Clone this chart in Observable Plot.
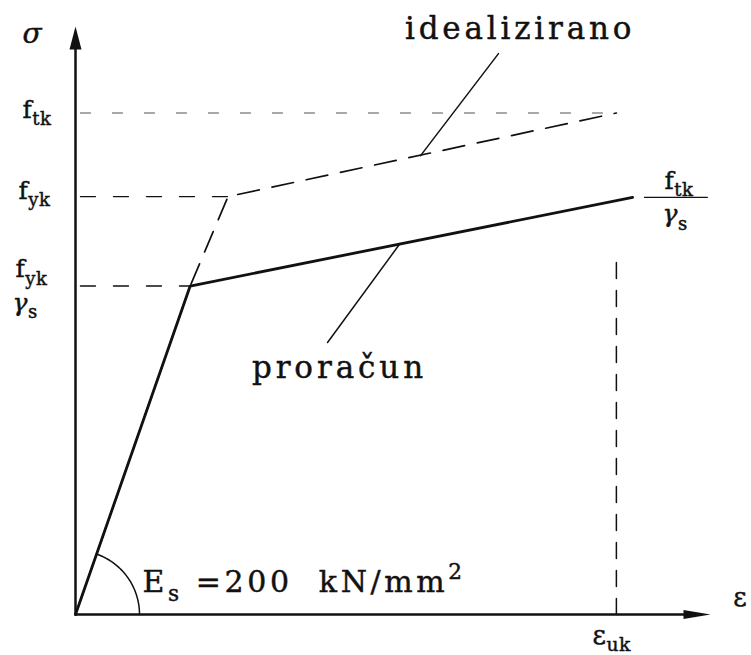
<!DOCTYPE html>
<html>
<head>
<meta charset="utf-8">
<script src="https://cdn.jsdelivr.net/npm/d3@7"></script>
<script src="https://cdn.jsdelivr.net/npm/@observablehq/plot@0.6"></script>
<style>
  html, body { margin: 0; padding: 0; background: white; }
</style>
</head>
<body>
<script>
// ---- values (schematic units: ε in ‰, σ in N/mm²) ----
const eps_uk = 50;
const f_tk = 600;
const f_yk = 500;
const f_yd = 393;      // f_yk / γs
const f_td = 499;      // f_tk / γs
const eps_yk = 14.1;   // idealised yield strain
const eps_yd = 10.6;   // design yield strain
const eps_td_end = 51.5;
const eps_max = 58.7;  // arrow tip of ε axis
const sig_max = 703.5; // arrow tip of σ axis

const idealEps = [0, eps_yd, eps_yk, eps_uk];
const idealSig = [0, f_yd, f_yk, f_tk];
const designEps = [0, eps_yd, eps_td_end];
const designSig = [0, f_yd, f_td];

const refStart = 0.46;
const leaderIdealEps = [39.1, 31.9];
const leaderIdealSig = [671, 549];
const leaderDesignEps = [30.0, 23.3];
const leaderDesignSig = [443.8, 325.4];
const vertSig = [421, -9.6];
const fracBarEps = [52.6, 58.4];

// ---- scales ----
const xDomain = [0, eps_max], xRange = [75, 710];
const yDomain = [0, sig_max], yRange = [614, 26];
const kx = (xRange[1] - xRange[0]) / (xDomain[1] - xDomain[0]);
const ky = (yRange[0] - yRange[1]) / (yDomain[1] - yDomain[0]);

const toPts = (xs, ys) => xs.map((x, i) => ({x, y: ys[i]}));
const ink = "#111";

// angle arc (radius in px) between ε axis and first design segment
const theta = Math.atan2(designSig[1] * ky, designEps[1] * kx);
const arcR = 64;
const arc = d3.range(0, 41).map(i => {
  const t = theta * i / 40;
  return {x: arcR * Math.cos(t) / kx, y: arcR * Math.sin(t) / ky};
});

// custom arrowhead symbols (tip at the point)
const upHead = {draw(ctx) { ctx.moveTo(0, 0); ctx.lineTo(-6, 23); ctx.lineTo(6, 23); ctx.closePath(); }};
const rightHead = {draw(ctx) { ctx.moveTo(0, 0); ctx.lineTo(-27, -4.5); ctx.lineTo(-27, 4.5); ctx.closePath(); }};

// text labels (rich: _{sub}, ^{sup})
const labels = [
  {x: -4.9, y: 694, t: "σ", size: 28, style: "italic", anchor: "start", ls: 0},
  {x: -4.9, y: 604, t: "f_{tk}", size: 25, anchor: "start", ls: 0.5},
  {x: -5.27, y: 507, t: "f_{yk}", size: 25, anchor: "start", ls: 0.5},
  {x: -5.55, y: 413, t: "f_{yk}", size: 25, anchor: "start", ls: 0.5},
  {x: -5.82, y: 373, t: "γ_{s}", size: 25, style: "italic", anchor: "start", ls: 0.5},
  {x: 54.45, y: 519, t: "f_{tk}", size: 25, anchor: "start", ls: 0.5},
  {x: 54.26, y: 478.6, t: "γ_{s}", size: 25, style: "italic", anchor: "start", ls: 0.5},
  {x: 41.1, y: 701, t: "idealizirano", size: 31, anchor: "middle", ls: 3.8},
  {x: 24.4, y: 294.3, t: "proračun", size: 31, anchor: "middle", ls: 3.9},
  {x: 6.19, y: 38.3, t: "E_{s} =200  kN/mm^{2}", size: 30, anchor: "start", ls: 3.6},
  {x: 60.8, y: 20.3, t: "ε", size: 26, anchor: "start", ls: 0},
  {x: 47.8, y: -24.8, t: "ε_{uk}", size: 26, anchor: "start", ls: 0.5}
];

const textMarks = labels.map(l => Plot.text([l], {
  x: "x", y: "y", text: "t", fontSize: l.size, fontStyle: l.style || "normal",
  textAnchor: l.anchor, fill: ink, stroke: ink, strokeWidth: 0.45
}));

const svg = Plot.plot({
  width: 751,
  height: 655,
  margin: 0,
  x: {domain: xDomain, range: xRange, axis: null},
  y: {domain: yDomain, range: yRange, axis: null},
  style: {fontFamily: "'DejaVu Serif', serif", background: "white", color: ink},
  marks: [
    // reference lines
    Plot.line(toPts([refStart, eps_uk], [f_tk, f_tk]), {x: "x", y: "y", stroke: "#8a8a8a", strokeWidth: 1.3, strokeDasharray: "10,22"}),
    Plot.line(toPts([refStart, eps_yk], [f_yk, f_yk]), {x: "x", y: "y", stroke: ink, strokeWidth: 1.4, strokeDasharray: "15,18"}),
    Plot.line(toPts([refStart, eps_yd], [f_yd, f_yd]), {x: "x", y: "y", stroke: ink, strokeWidth: 1.4, strokeDasharray: "15,18"}),
    Plot.line(toPts([eps_uk, eps_uk], vertSig), {x: "x", y: "y", stroke: ink, strokeWidth: 1.5, strokeDasharray: "16,12"}),
    // idealised diagram (dashed)
    Plot.line(toPts(idealEps, idealSig), {x: "x", y: "y", stroke: ink, strokeWidth: 1.7, strokeDasharray: "22,13"}),
    // design diagram (solid)
    Plot.line(toPts(designEps, designSig), {x: "x", y: "y", stroke: ink, strokeWidth: 2.8}),
    // leaders
    Plot.line(toPts(leaderIdealEps, leaderIdealSig), {x: "x", y: "y", stroke: ink, strokeWidth: 1.5}),
    Plot.line(toPts(leaderDesignEps, leaderDesignSig), {x: "x", y: "y", stroke: ink, strokeWidth: 1.5}),
    // angle arc
    Plot.line(arc, {x: "x", y: "y", stroke: ink, strokeWidth: 1.5}),
    // fraction bar
    Plot.line(toPts(fracBarEps, [f_td, f_td]), {x: "x", y: "y", stroke: ink, strokeWidth: 1.3}),
    // axes
    Plot.line(toPts([0, eps_max - 1.5], [0, 0]), {x: "x", y: "y", stroke: ink, strokeWidth: 2.5}),
    Plot.line(toPts([0, 0], [0, sig_max - 15]), {x: "x", y: "y", stroke: ink, strokeWidth: 2.5}),
    Plot.dot([{x: 0, y: sig_max}], {x: "x", y: "y", symbol: upHead, fill: ink, stroke: "none", r: 5}),
    Plot.dot([{x: eps_max, y: 0}], {x: "x", y: "y", symbol: rightHead, fill: ink, stroke: "none", r: 5}),
    ...textMarks
  ]
});

document.body.appendChild(svg);

// letter spacing per label, then rich text (subscripts / superscripts)
const spacing = new Map(labels.map(l => [l.t, l.ls]));
const NS = "http://www.w3.org/2000/svg";
d3.select(svg).selectAll("text").each(function() {
  const el = this;
  const s = el.textContent;
  if (spacing.has(s)) el.setAttribute("letter-spacing", spacing.get(s));
  if (!/[_^]\{/.test(s)) return;
  const fs = parseFloat(getComputedStyle(el).fontSize) || 24;
  el.textContent = "";
  const re = /([_^])\{([^}]*)\}|([^_^]+)/g;
  let m, shift = 0;
  while ((m = re.exec(s))) {
    const ts = document.createElementNS(NS, "tspan");
    if (m[3] !== undefined) {
      ts.textContent = m[3];
      if (shift) ts.setAttribute("dy", -shift);
      shift = 0;
    } else {
      const d = m[1] === "_" ? 0.3 * fs : -0.45 * fs;
      ts.textContent = m[2];
      ts.setAttribute("dy", d - shift);
      ts.setAttribute("font-size", 0.72 * fs);
      ts.setAttribute("font-style", "normal");
      shift = d;
    }
    el.appendChild(ts);
  }
});
</script>
</body>
</html>
